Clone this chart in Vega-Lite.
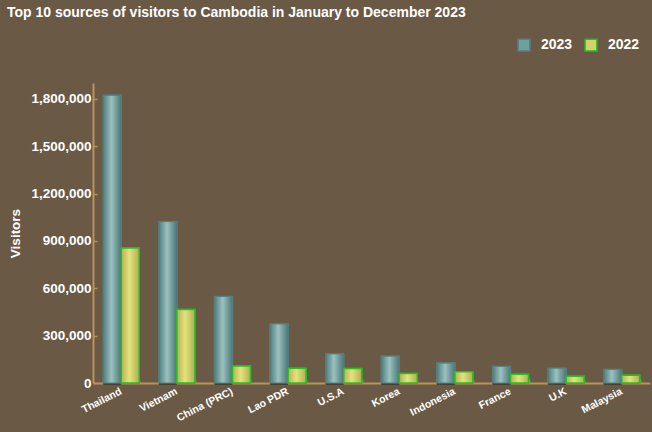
{
  "$schema": "https://vega.github.io/schema/vega-lite/v6.json",
  "width": 557,
  "height": 300,
  "autosize": "none",
  "padding": {"left": 93, "top": 83, "right": 2, "bottom": 49},
  "background": "#6a5945",
  "title": {
    "text": "Top 10 sources of visitors to Cambodia in January to December 2023",
    "anchor": "start",
    "dx": -2,
    "offset": 18,
    "font": "Liberation Sans",
    "fontSize": 14,
    "fontWeight": "bold",
    "color": "#ffffff"
  },
  "config": {
    "view": {"stroke": null},
    "font": "Liberation Sans"
  },
  "data": {
    "values": [
      {"country": "Thailand", "year": "2023", "visitors": 1822000},
      {"country": "Thailand", "year": "2022", "visitors": 855000},
      {"country": "Vietnam", "year": "2023", "visitors": 1022000},
      {"country": "Vietnam", "year": "2022", "visitors": 465000},
      {"country": "China (PRC)", "year": "2023", "visitors": 548000},
      {"country": "China (PRC)", "year": "2022", "visitors": 108000},
      {"country": "Lao PDR", "year": "2023", "visitors": 374000},
      {"country": "Lao PDR", "year": "2022", "visitors": 94000},
      {"country": "U.S.A", "year": "2023", "visitors": 184000},
      {"country": "U.S.A", "year": "2022", "visitors": 92000},
      {"country": "Korea", "year": "2023", "visitors": 170000},
      {"country": "Korea", "year": "2022", "visitors": 60000},
      {"country": "Indonesia", "year": "2023", "visitors": 126000},
      {"country": "Indonesia", "year": "2022", "visitors": 72000},
      {"country": "France", "year": "2023", "visitors": 105000},
      {"country": "France", "year": "2022", "visitors": 55000},
      {"country": "U.K", "year": "2023", "visitors": 94000},
      {"country": "U.K", "year": "2022", "visitors": 42000},
      {"country": "Malaysia", "year": "2023", "visitors": 86000},
      {"country": "Malaysia", "year": "2022", "visitors": 49000}
    ]
  },
  "encoding": {
    "x": {
      "field": "country",
      "type": "nominal",
      "sort": null,
      "scale": {"paddingInner": 0.353, "paddingOuter": 0.185},
      "axis": {
        "title": null,
        "labelAngle": -27,
        "labelAlign": "right",
        "labelBaseline": "top",
        "labelFontSize": 10.5,
        "labelFontWeight": "bold",
        "labelColor": "#ffffff",
        "labelPadding": 7,
        "labelOffset": -3,
        "domainColor": "#b8935f",
        "domainWidth": 2,
        "tickColor": "#b8935f",
        "tickBand": "extent",
        "tickSize": -4,
        "tickWidth": 1.5
      }
    },
    "xOffset": {"field": "year", "type": "nominal", "sort": ["2023", "2022"], "scale": {"domain": ["2023", "2022"]}},
    "y": {
      "field": "visitors",
      "type": "quantitative",
      "scale": {"domain": [0, 1900000], "nice": false},
      "axis": {
        "title": "Visitors",
        "titleColor": "#ffffff",
        "titleFontSize": 13.5,
        "titleFontWeight": "bold",
        "titlePadding": 8,
        "values": [0, 300000, 600000, 900000, 1200000, 1500000, 1800000],
        "format": ",d",
        "grid": false,
        "labelColor": "#ffffff",
        "labelFontSize": 13.5,
        "labelFontWeight": "bold",
        "labelPadding": 6,
        "domainColor": "#b8935f",
        "domainWidth": 2,
        "tickColor": "#b8935f",
        "tickSize": -4,
        "tickWidth": 1.5
      }
    }
  },
  "layer": [
    {
      "mark": {"type": "bar", "strokeWidth": 1.5},
      "encoding": {
        "color": {
          "field": "year",
          "type": "nominal",
          "sort": ["2023", "2022"],
          "scale": {"domain": ["2023", "2022"], "range": ["#6fa0a0", "#d3d16c"]},
          "legend": {
            "title": null,
            "orient": "none",
            "direction": "horizontal",
            "legendX": 424,
            "legendY": -45,
            "symbolType": "square",
            "symbolSize": 140,
            "symbolStrokeWidth": 1.5,
            "symbolOpacity": 1,
            "labelColor": "#ffffff",
            "labelFontSize": 14,
            "labelFontWeight": "bold",
            "labelOffset": 10,
            "columnPadding": 9
          }
        },
        "stroke": {
          "field": "year",
          "type": "nominal",
          "sort": ["2023", "2022"],
          "scale": {"domain": ["2023", "2022"], "range": ["#5a8080", "#1fc21f"]}
        }
      }
    },
    {
      "transform": [{"filter": "datum.year === '2023'"}],
      "mark": {"type": "bar", "fill": "#4a3e2f", "xOffset": 2, "yOffset": 2}
    },
    {
      "transform": [{"filter": "datum.year === '2023'"}],
      "mark": {
        "type": "bar",
        "stroke": "#54807f",
        "strokeWidth": 1,
        "fill": {"gradient": "linear", "x1": 0, "y1": 0, "x2": 1, "y2": 0, "stops": [
          {"offset": 0, "color": "#4c7f7f"},
          {"offset": 0.45, "color": "#9cc0c0"},
          {"offset": 1, "color": "#4a7878"}
        ]}
      }
    },
    {
      "transform": [{"filter": "datum.year === '2022'"}],
      "mark": {
        "type": "bar",
        "stroke": "#1fc21f",
        "strokeWidth": 1.5,
        "fill": {"gradient": "linear", "x1": 0, "y1": 0, "x2": 1, "y2": 0, "stops": [
          {"offset": 0, "color": "#b5b156"},
          {"offset": 0.45, "color": "#e4e27c"},
          {"offset": 1, "color": "#b3ae54"}
        ]}
      }
    }
  ]
}
